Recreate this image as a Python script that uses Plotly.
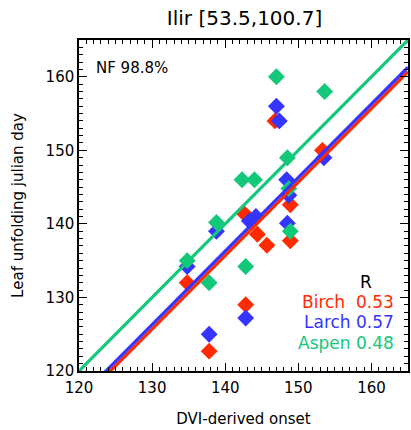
import numpy as np
import plotly.graph_objects as go

# ---- data ----
species = ["Birch", "Larch", "Aspen"]
r_values = ["0.53", "0.57", "0.48"]
colors = ["#ff2a00", "#3535ff", "#14c87a"]

birch_x = [146.8, 153.3, 148.9, 142.6, 144.4, 145.7, 148.9, 134.8, 142.8, 137.8]
birch_y = [154.0, 150.0, 142.6, 141.4, 138.6, 137.1, 137.7, 132.0, 129.0, 122.7]

larch_x = [147.0, 147.4, 153.5, 148.4, 148.7, 143.3, 144.2, 148.5, 138.8, 134.8, 142.8, 137.8]
larch_y = [156.0, 154.0, 149.0, 146.0, 143.9, 140.4, 141.0, 140.1, 139.0, 134.2, 127.2, 125.0]

aspen_x = [147.0, 153.6, 148.5, 142.3, 144.0, 148.7, 138.8, 148.9, 134.8, 137.8, 142.8]
aspen_y = [160.0, 158.0, 149.0, 146.0, 146.0, 144.8, 140.2, 139.0, 135.0, 132.0, 134.2]

# fitted lines (slope, intercept)
slopes = [1.0, 1.0, 1.0]
intercepts = [-4.3, -3.7, 0.0]

x_range = [120, 165]
y_range = [120, 165]
x_ticks = [120, 130, 140, 150, 160]
y_ticks = [120, 130, 140, 150, 160]

title_text = "Ilir [53.5,100.7]"
nf_text = "NF 98.8%"
x_title = "DVI-derived onset"
y_title = "Leaf unfolding julian day"

xs_all = [birch_x, larch_x, aspen_x]
ys_all = [birch_y, larch_y, aspen_y]

FONT = "DejaVu Sans"

fig = go.Figure()

for name, xs, ys, c in zip(species, xs_all, ys_all, colors):
    fig.add_trace(go.Scatter(x=xs, y=ys, mode="markers", name=name,
                             marker=dict(symbol="diamond", size=13, color=c,
                                         line=dict(width=0)),
                             showlegend=False, cliponaxis=True))

line_x = np.array(x_range, dtype=float)
for name, m, b, c in zip(species, slopes, intercepts, colors):
    fig.add_trace(go.Scatter(x=line_x, y=m * line_x + b, mode="lines",
                             line=dict(color=c, width=3.2),
                             showlegend=False, hoverinfo="skip"))

# annotations
fig.add_annotation(x=0.045, y=0.915, xref="paper", yref="paper", text=nf_text,
                   showarrow=False, xanchor="left", yanchor="middle",
                   font=dict(family=FONT, size=15, color="black"))
fig.add_annotation(x=0.872, y=0.268, xref="paper", yref="paper", text="R",
                   showarrow=False, xanchor="center", yanchor="middle",
                   font=dict(family=FONT, size=17, color="black"))
for i, (name, r, c) in enumerate(zip(species, r_values, colors)):
    fig.add_annotation(x=0.965, y=0.208 - i * 0.061, xref="paper", yref="paper",
                       text=f"{name}&nbsp;&nbsp;{r}" if name == "Birch" else f"{name} {r}",
                       showarrow=False, xanchor="right", yanchor="middle",
                       font=dict(family=FONT, size=17, color=c))

axis_common = dict(
    showline=True, linecolor="black", linewidth=1.5, mirror="allticks",
    ticks="inside", ticklen=8, tickwidth=1, tickcolor="black",
    minor=dict(dtick=1, ticks="inside", ticklen=4, tickwidth=1, tickcolor="black"),
    showgrid=False, zeroline=False,
    tickfont=dict(family=FONT, size=15, color="black"),
)

fig.update_xaxes(range=x_range, tickvals=x_ticks, **axis_common, ticklabelstandoff=2,
                 title=dict(text=x_title, font=dict(family=FONT, size=15, color="black"),
                            standoff=18))
fig.update_yaxes(range=y_range, tickvals=y_ticks, **axis_common,
                 title=dict(text=y_title, font=dict(family=FONT, size=15, color="black"),
                            standoff=18))

fig.update_layout(
    width=411, height=430,
    margin=dict(l=79, r=1, t=40, b=59),
    paper_bgcolor="white", plot_bgcolor="white",
    title=dict(text=title_text, x=0.595, xanchor="center", y=0.958, yanchor="middle",
               font=dict(family=FONT, size=20, color="black")),
    showlegend=False,
)

fig.write_html("out.html")
